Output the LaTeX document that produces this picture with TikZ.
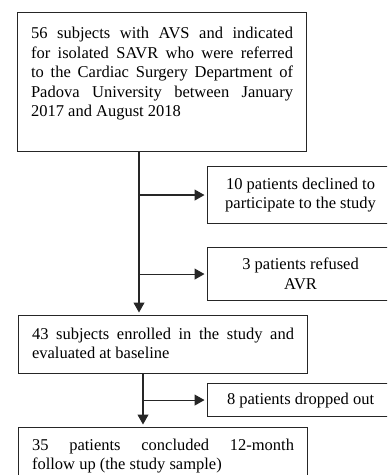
\documentclass[tikz,border=0pt]{standalone}
\usepackage{fontspec}
\setmainfont{Liberation Serif}
\usetikzlibrary{arrows.meta,calc}
\tikzset{
  boxline/.style={draw=black!85, line width=1.1bp},
  mainbox/.style={boxline, anchor=north west, inner xsep=13.5bp, inner ysep=0pt},
  sidebox/.style={boxline, anchor=north west, inner sep=0pt, minimum width=186bp, align=center},
  arr/.style={draw=black!85, line width=1.1bp, -{Triangle[length=10bp,width=11bp]}, shorten >=2.5bp},
  conn/.style={draw=black!85, line width=1.1bp}
}
\newcommand{\topbox}[3]{\parbox[c][#1][t]{262bp}{\vspace{#2}#3}}
\begin{document}
\begin{tikzpicture}[x=1bp,y=-1bp,font=\fontsize{16.5bp}{19.5bp}\selectfont]
\useasboundingbox (0,0) rectangle (387,475);
\clip (0,0) rectangle (387,475);
\node[mainbox] (b1) at (17,12) {\topbox{139bp}{15bp}{56 subjects with AVS and indicated\linebreak for isolated SAVR who were referred\linebreak to the Cardiac Surgery Department of\linebreak Padova University between January\linebreak 2017 and August 2018}};
\node[sidebox, minimum height=57bp] (b2) at (207,166) {10 patients declined to\\participate to the study};
\node[sidebox, minimum height=53bp] (b3) at (207,247) {3 patients refused\\AVR};
\node[mainbox] (b4) at (18,315) {\topbox{58bp}{12bp}{43 subjects enrolled in the study and\linebreak evaluated at baseline}};
\node[sidebox, minimum height=33bp] (b5) at (207,383) {8 patients dropped out};
\node[mainbox] (b6) at (18,427) {\topbox{70bp}{11bp}{35 patients concluded 12-month\linebreak follow up (the study sample)}};
\coordinate (v1) at ([xshift=122bp]b1.south west);
\coordinate (v2) at ([xshift=125bp]b4.south west);
\draw[arr] (v1) -- (b4.north -| v1);
\draw[arr] (b2.west -| v1) -- (b2.west);
\draw[arr] (b3.west -| v1) -- (b3.west);
\draw[arr] (v2) -- (b6.north -| v2);
\draw[arr] (b5.west -| v2) -- (b5.west);
\end{tikzpicture}
\end{document}
